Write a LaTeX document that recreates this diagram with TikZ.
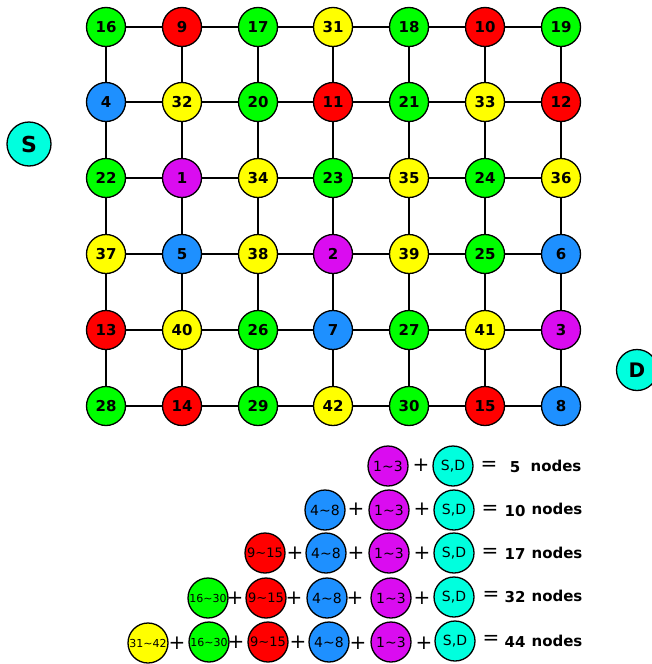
\documentclass[tikz,border=0pt]{standalone}
\usepackage{fontspec}
\setmainfont{DejaVu Sans}
\definecolor{cg}{RGB}{0,255,0}
\definecolor{cr}{RGB}{255,0,0}
\definecolor{cy}{RGB}{255,255,0}
\definecolor{cb}{RGB}{30,144,255}
\definecolor{cp}{RGB}{218,12,240}
\definecolor{cc}{RGB}{0,255,222}
\begin{document}
\begin{tikzpicture}[x=1pt,y=-1pt,
  gn/.style={circle,draw=black,line width=1.3pt,minimum size=39pt,inner sep=0pt,font=\fontsize{15}{15}\selectfont\bfseries},
  ln/.style={circle,draw=black,line width=1.3pt,minimum size=40pt,inner sep=0pt,font=\fontsize{14}{14}\selectfont},
  edge/.style={line width=2pt,black},
  op/.style={inner sep=0pt,font=\fontsize{20}{20}\selectfont},
  txt/.style={inner sep=0pt,font=\fontsize{15}{15}\selectfont\bfseries}]
\useasboundingbox (0,0) rectangle (651,664);
% grid
\foreach \lab/\col/\x [count=\i] in {16/cg/106,9/cr/182,17/cg/258,31/cy/333,18/cg/409,10/cr/485,19/cg/561}
  \node[gn,fill=\col] (a\i) at (\x,27) {\lab};
\foreach \lab/\col/\x [count=\i] in {4/cb/106,32/cy/182,20/cg/258,11/cr/333,21/cg/409,33/cy/485,12/cr/561}
  \node[gn,fill=\col] (b\i) at (\x,102) {\lab};
\foreach \lab/\col/\x [count=\i] in {22/cg/106,1/cp/182,34/cy/258,23/cg/333,35/cy/409,24/cg/485,36/cy/561}
  \node[gn,fill=\col] (c\i) at (\x,178) {\lab};
\foreach \lab/\col/\x [count=\i] in {37/cy/106,5/cb/182,38/cy/258,2/cp/333,39/cy/409,25/cg/485,6/cb/561}
  \node[gn,fill=\col] (d\i) at (\x,254) {\lab};
\foreach \lab/\col/\x [count=\i] in {13/cr/106,40/cy/182,26/cg/258,7/cb/333,27/cg/409,41/cy/485,3/cp/561}
  \node[gn,fill=\col] (e\i) at (\x,330) {\lab};
\foreach \lab/\col/\x [count=\i] in {28/cg/106,14/cr/182,29/cg/258,42/cy/333,30/cg/409,15/cr/485,8/cb/561}
  \node[gn,fill=\col] (f\i) at (\x,406) {\lab};
\foreach \r in {a,b,c,d,e,f}
  \foreach \i/\j in {1/2,2/3,3/4,4/5,5/6,6/7}
    \draw[edge] (\r\i) -- (\r\j);
\foreach \r/\s in {a/b,b/c,c/d,d/e,e/f}
  \foreach \i in {1,2,3,4,5,6,7}
    \draw[edge] (\r\i) -- (\s\i);
% S and D
\node[circle,draw=black,line width=1.3pt,fill=cc,minimum size=44pt,inner sep=0pt,font=\fontsize{22}{22}\selectfont\bfseries] (S) at (29,144) {S};
\node[circle,draw=black,line width=1.3pt,fill=cc,minimum size=41pt,inner sep=0pt,font=\fontsize{20}{20}\selectfont\bfseries] (D) at (637,370) {D};
% legend row 1
\node[ln,fill=cp] (l1p) at (388,466) {1\string~3};
\node[op] (l1a) at (421,465) {+};
\node[ln,fill=cc] (l1s) at (453,466) {S,D};
\node[op] (l1e) at (489,466) {=};
\node[txt] (l1n) at (515,467) {5};
\node[txt] (l1t) at (556,466) {nodes};
% legend row 2
\node[ln,fill=cb] (l2b) at (325,510) {4\string~8};
\node[op] (l2a) at (356,509) {+};
\node[ln,fill=cp] (l2p) at (389,510) {1\string~3};
\node[op] (l2c) at (422,509) {+};
\node[ln,fill=cc] (l2s) at (454,510) {S,D};
\node[op] (l2e) at (490,510) {=};
\node[txt] (l2n) at (515,511) {10};
\node[txt] (l2t) at (557,509) {nodes};
% legend row 3
\node[ln,fill=cr,font=\fontsize{13}{13}\selectfont] (l3r) at (265,553) {9\string~15};
\node[op] (l3a) at (295,553) {+};
\node[ln,fill=cb] (l3b) at (326,553) {4\string~8};
\node[op] (l3c) at (356,553) {+};
\node[ln,fill=cp] (l3p) at (389,553) {1\string~3};
\node[op] (l3d) at (422,553) {+};
\node[ln,fill=cc] (l3s) at (454,553) {S,D};
\node[op] (l3e) at (490,553) {=};
\node[txt] (l3n) at (515,554) {17};
\node[txt] (l3t) at (557,553) {nodes};
% legend row 4
\node[ln,fill=cg,font=\fontsize{11}{11}\selectfont] (l4g) at (208,598) {16\string~30};
\node[op] (l4a) at (235,598) {+};
\node[ln,fill=cr,font=\fontsize{13}{13}\selectfont] (l4r) at (266,598) {9\string~15};
\node[op] (l4b) at (294,598) {+};
\node[ln,fill=cb] (l4c) at (327,598) {4\string~8};
\node[op] (l4d) at (355,598) {+};
\node[ln,fill=cp] (l4p) at (391,598) {1\string~3};
\node[op] (l4f) at (422,598) {+};
\node[ln,fill=cc] (l4s) at (454,597) {S,D};
\node[op] (l4e) at (491,596) {=};
\node[txt] (l4n) at (515,597) {32};
\node[txt] (l4t) at (557,596) {nodes};
% legend row 5
\node[ln,fill=cy,font=\fontsize{11}{11}\selectfont] (l5y) at (148,643) {31\string~42};
\node[op] (l5a) at (177,643) {+};
\node[ln,fill=cg,font=\fontsize{11}{11}\selectfont] (l5g) at (209,642) {16\string~30};
\node[op] (l5b) at (236,642) {+};
\node[ln,fill=cr,font=\fontsize{13}{13}\selectfont] (l5r) at (268,642) {9\string~15};
\node[op] (l5c) at (298,642) {+};
\node[ln,fill=cb] (l5d) at (329,642) {4\string~8};
\node[op] (l5f) at (358,643) {+};
\node[ln,fill=cp] (l5p) at (391,642) {1\string~3};
\node[op] (l5h) at (424,643) {+};
\node[ln,fill=cc] (l5s) at (455,641) {S,D};
\node[op] (l5e) at (491,640) {=};
\node[txt] (l5n) at (515,642) {44};
\node[txt] (l5t) at (557,641) {nodes};
\end{tikzpicture}
\end{document}
